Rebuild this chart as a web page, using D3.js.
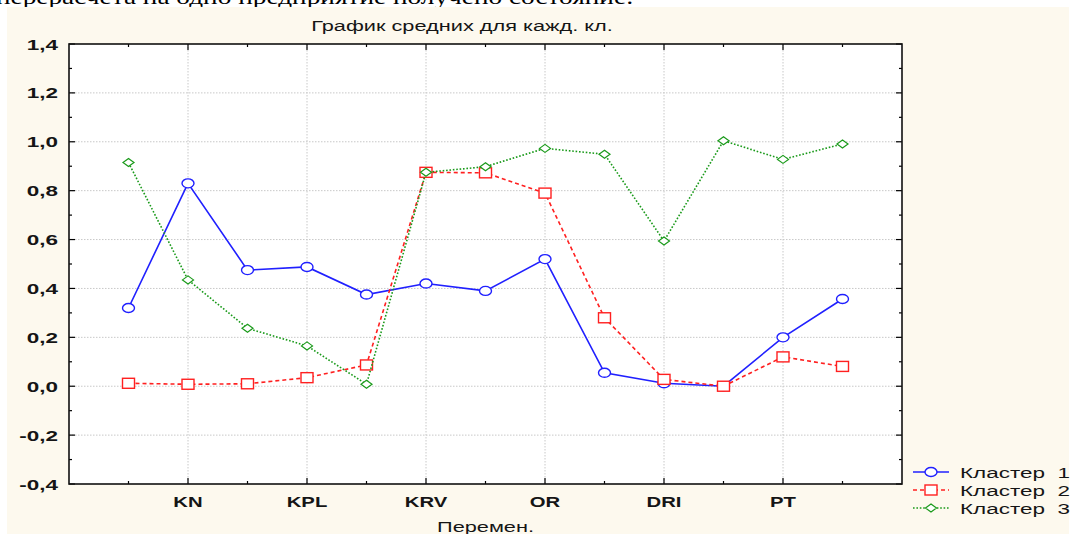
<!DOCTYPE html>
<html>
<head>
<meta charset="utf-8">
<script src="https://cdn.jsdelivr.net/npm/d3@7"></script>
<style>
  body { margin: 0; background: #fff; }
  svg { display: block; }
</style>
</head>
<body>
<svg id="chart" width="1070" height="534"></svg>
<script>
// categories (only every other one carries a label in the original)
var categories = ["", "KN", "", "KPL", "", "KRV", "", "OR", "", "DRI", "", "PT", ""];
var yTicks = [-0.4, -0.2, 0, 0.2, 0.4, 0.6, 0.8, 1.0, 1.2, 1.4];
var seriesNames = ["Кластер  1", "Кластер  2", "Кластер  3"];

var cluster1 = [0.32, 0.83, 0.475, 0.488, 0.375, 0.42, 0.39, 0.52, 0.055, 0.012, 0.0, 0.2, 0.357];
var cluster2 = [0.012, 0.008, 0.01, 0.035, 0.087, 0.875, 0.873, 0.79, 0.28, 0.028, 0.0, 0.12, 0.081];
var cluster3 = [0.915, 0.435, 0.237, 0.165, 0.008, 0.875, 0.898, 0.973, 0.949, 0.594, 1.004, 0.928, 0.991];

var margin = {top: 44, right: 168, bottom: 50, left: 69};
var width = 1070 - margin.left - margin.right;
var height = 534 - margin.top - margin.bottom;
var stretch = 1.45; // the source image is widened horizontally, text included

var svg = d3.select("#chart");
var labelFont = "'Liberation Sans', Arial, sans-serif";

// helper: horizontally stretched text
function wideText(sel, tx, ty, str, size, anchor, weight) {
    return sel.append("text")
        .attr("transform", "translate(" + tx + "," + ty + ") scale(" + stretch + ",1)")
        .attr("text-anchor", anchor || "start")
        .style("font-family", labelFont)
        .style("font-size", size + "px")
        .style("font-weight", weight || "normal")
        .style("white-space", "pre")
        .attr("fill", "#151515")
        .text(str);
}

// clipped line of the surrounding document text
svg.append("text")
    .attr("transform", "translate(-4,4) scale(1.3,1)")
    .style("font-family", "'Liberation Serif', 'Times New Roman', serif")
    .style("font-size", "21px")
    .attr("fill", "#000")
    .text("перерасчета на одно предприятие получено состояние:");

// cream panel
svg.append("rect")
    .attr("x", 7).attr("y", 7)
    .attr("width", 1062).attr("height", 527)
    .attr("fill", "#fdf9ee");

var g = svg.append("g")
    .attr("transform", "translate(" + margin.left + "," + margin.top + ")");

var x = d3.scaleLinear().domain([0, categories.length + 1]).range([0, width]);
var y = d3.scaleLinear().domain([-0.4, 1.4]).range([height, 0]);

g.append("rect")
    .attr("width", width).attr("height", height)
    .attr("fill", "#fff");

var fmt = function(d) { return d3.format(".1f")(d).replace(".", ",").replace("−", "-"); };
var labelled = categories.map(function(c, i) { return {c: c, i: i + 1}; })
    .filter(function(d) { return d.c; });

// grid
g.append("g").selectAll("line")
    .data(yTicks.slice(1, -1))
    .enter().append("line")
    .attr("x1", 0).attr("x2", width)
    .attr("y1", function(d) { return y(d); })
    .attr("y2", function(d) { return y(d); })
    .attr("stroke", "#c8c8c8")
    .attr("stroke-dasharray", "1.5,1.5");

g.append("g").selectAll("line")
    .data(labelled)
    .enter().append("line")
    .attr("x1", function(d) { return x(d.i); })
    .attr("x2", function(d) { return x(d.i); })
    .attr("y1", 0).attr("y2", height)
    .attr("stroke", "#c8c8c8")
    .attr("stroke-dasharray", "1.5,1.5");

// inward ticks on all four sides
var catIdx = d3.range(1, categories.length + 1);
var minorY = d3.range(-0.3, 1.4, 0.2);

function xTicks(sel, y0, dir) {
    sel.selectAll(null).data(catIdx).enter().append("line")
        .attr("x1", function(d) { return x(d); })
        .attr("x2", function(d) { return x(d); })
        .attr("y1", y0)
        .attr("y2", function(d) { return y0 + dir * (categories[d - 1] ? 6 : 3); })
        .attr("stroke", "#000").attr("stroke-width", 1.2);
}
function yTickMarks(sel, x0, dir) {
    sel.selectAll(null).data(yTicks.concat(minorY)).enter().append("line")
        .attr("y1", function(d) { return y(d); })
        .attr("y2", function(d) { return y(d); })
        .attr("x1", x0)
        .attr("x2", function(d) { return x0 + dir * (yTicks.indexOf(d) >= 0 ? 6 : 3); })
        .attr("stroke", "#000").attr("stroke-width", 1.2);
}
var ticks = g.append("g");
xTicks(ticks, height, -1);
xTicks(ticks, 0, 1);
yTickMarks(ticks, 0, 1);
yTickMarks(ticks, width, -1);

g.append("rect")
    .attr("width", width).attr("height", height)
    .attr("fill", "none")
    .attr("stroke", "#111").attr("stroke-width", 1.6);

// tick labels
yTicks.forEach(function(d) {
    wideText(g, -11, y(d) + 5.5, fmt(d), 15.5, "end", "bold");
});
labelled.forEach(function(d) {
    wideText(g, x(d.i), height + 23, d.c, 14, "middle", "bold");
});

wideText(svg, 462, 31, "График средних для кажд. кл.", 15, "middle");
wideText(svg, margin.left + width / 2, 532, "Перемен.", 15, "middle");

// series
var series = [
    {name: seriesNames[0], values: cluster1, color: "#2020ff", dash: null, marker: "circle"},
    {name: seriesNames[1], values: cluster2, color: "#ff2020", dash: "4,3", marker: "square"},
    {name: seriesNames[2], values: cluster3, color: "#1a9a1a", dash: "1.6,1.8", marker: "diamond"}
];

var line = d3.line()
    .x(function(d, i) { return x(i + 1); })
    .y(function(d) { return y(d); });

function drawMarker(sel, s, cx, cy) {
    if (s.marker === "circle") {
        sel.append("ellipse").attr("cx", cx).attr("cy", cy).attr("rx", 6).attr("ry", 4.5)
            .attr("fill", "#fff").attr("stroke", s.color).attr("stroke-width", 1.4);
    } else if (s.marker === "square") {
        sel.append("rect").attr("x", cx - 6).attr("y", cy - 5).attr("width", 12).attr("height", 10)
            .attr("fill", "#fff").attr("stroke", s.color).attr("stroke-width", 1.4);
    } else {
        sel.append("path")
            .attr("d", "M" + cx + "," + (cy - 4) + "L" + (cx + 5.5) + "," + cy + "L" + cx + "," + (cy + 4) + "L" + (cx - 5.5) + "," + cy + "Z")
            .attr("fill", "#fff").attr("stroke", s.color).attr("stroke-width", 1.2);
    }
}

series.forEach(function(s) {
    var sg = g.append("g");
    sg.append("path")
        .datum(s.values)
        .attr("d", line)
        .attr("fill", "none")
        .attr("stroke", s.color)
        .attr("stroke-width", 1.6)
        .attr("stroke-dasharray", s.dash);
    s.values.forEach(function(v, i) {
        drawMarker(sg, s, x(i + 1), y(v));
    });
});

// legend
var legend = svg.append("g").attr("transform", "translate(913,472)");
series.forEach(function(s, i) {
    var row = legend.append("g").attr("transform", "translate(0," + (i * 18) + ")");
    row.append("line")
        .attr("x1", 0).attr("x2", 36).attr("y1", 0).attr("y2", 0)
        .attr("stroke", s.color).attr("stroke-width", 1.4)
        .attr("stroke-dasharray", s.dash);
    drawMarker(row, s, 18, 0);
    wideText(row, 47, 6, s.name, 15.5);
});
</script>
</body>
</html>
